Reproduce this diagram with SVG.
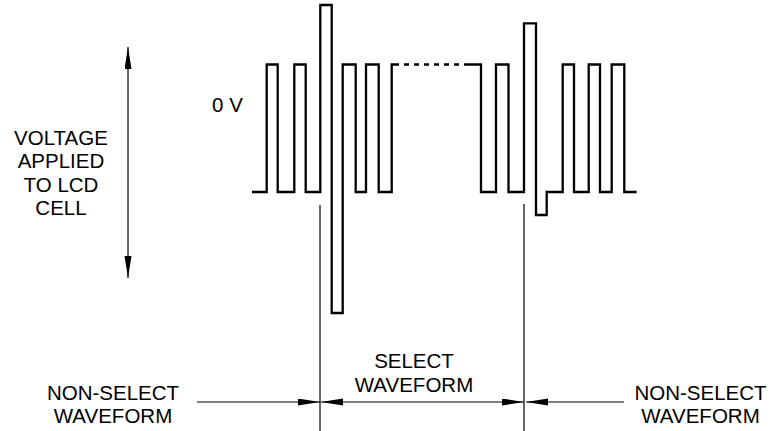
<svg xmlns="http://www.w3.org/2000/svg" width="772" height="431" viewBox="0 0 772 431">
<style>
text{font-family:"Liberation Sans",Arial,sans-serif;font-size:20.5px;fill:#000;text-anchor:middle}
.wave{fill:none;stroke:#000;stroke-width:2.3;stroke-linejoin:miter;stroke-linecap:butt}
.thin{fill:none;stroke:#000;stroke-width:1.2}
</style>
<defs>
<marker id="ah" markerUnits="userSpaceOnUse" markerWidth="23" markerHeight="8" refX="22" refY="3.5" orient="auto-start-reverse">
<path d="M0,0 L22,3.5 L0,7 z" fill="#000"/>
</marker>
</defs>
<g id="waveform">
<path class="wave" d="M252,192 H266.7 V64.5 H277.7 V192 H294.3 V64.5 H305.7 V192 H320.3 V5 H331.7 V313 H342.7 V64.5 H355.7 V192 H366 V64.5 H378.7 V192 H391.7 V64.5 H399"/>
<path class="wave" d="M399,64.5 H467" stroke-dasharray="5 5" stroke-dashoffset="5"/>
<path class="wave" d="M467,64.5 H481 V192 H496 V64.5 H508.5 V192 H524 V23.3 H536 V215 H546.7 V192 H562.7 V64.5 H574 V192 H588.7 V64.5 H600 V192 H611.7 V64.5 H624.3 V192 H636.7"/>
</g>
<g id="label-voltage">
<text x="61" y="145">VOLTAGE</text>
<text x="61" y="168">APPLIED</text>
<text x="61" y="191.5">TO LCD</text>
<text x="61" y="215">CELL</text>
</g>
<g id="label-0v"><text x="227.5" y="111.5">0 V</text></g>
<g id="label-nonselect-left">
<text x="113" y="400">NON-SELECT</text>
<text x="113" y="422.5">WAVEFORM</text>
</g>
<g id="label-select">
<text x="414" y="368">SELECT</text>
<text x="414" y="391.5">WAVEFORM</text>
</g>
<g id="label-nonselect-right">
<text x="700.5" y="399.5">NON-SELECT</text>
<text x="700.5" y="422.5">WAVEFORM</text>
</g>
<g id="connectors">
<line class="thin" x1="128" y1="47" x2="128" y2="278" marker-start="url(#ah)" marker-end="url(#ah)"/>
<line class="thin" x1="320" y1="205" x2="320" y2="431"/>
<line class="thin" x1="524" y1="204" x2="524" y2="431"/>
<line class="thin" x1="197" y1="402" x2="320" y2="402" marker-end="url(#ah)"/>
<line class="thin" x1="321" y1="402" x2="524" y2="402" marker-start="url(#ah)" marker-end="url(#ah)"/>
<line class="thin" x1="624" y1="402" x2="526" y2="402" marker-end="url(#ah)"/>
</g>
</svg>
